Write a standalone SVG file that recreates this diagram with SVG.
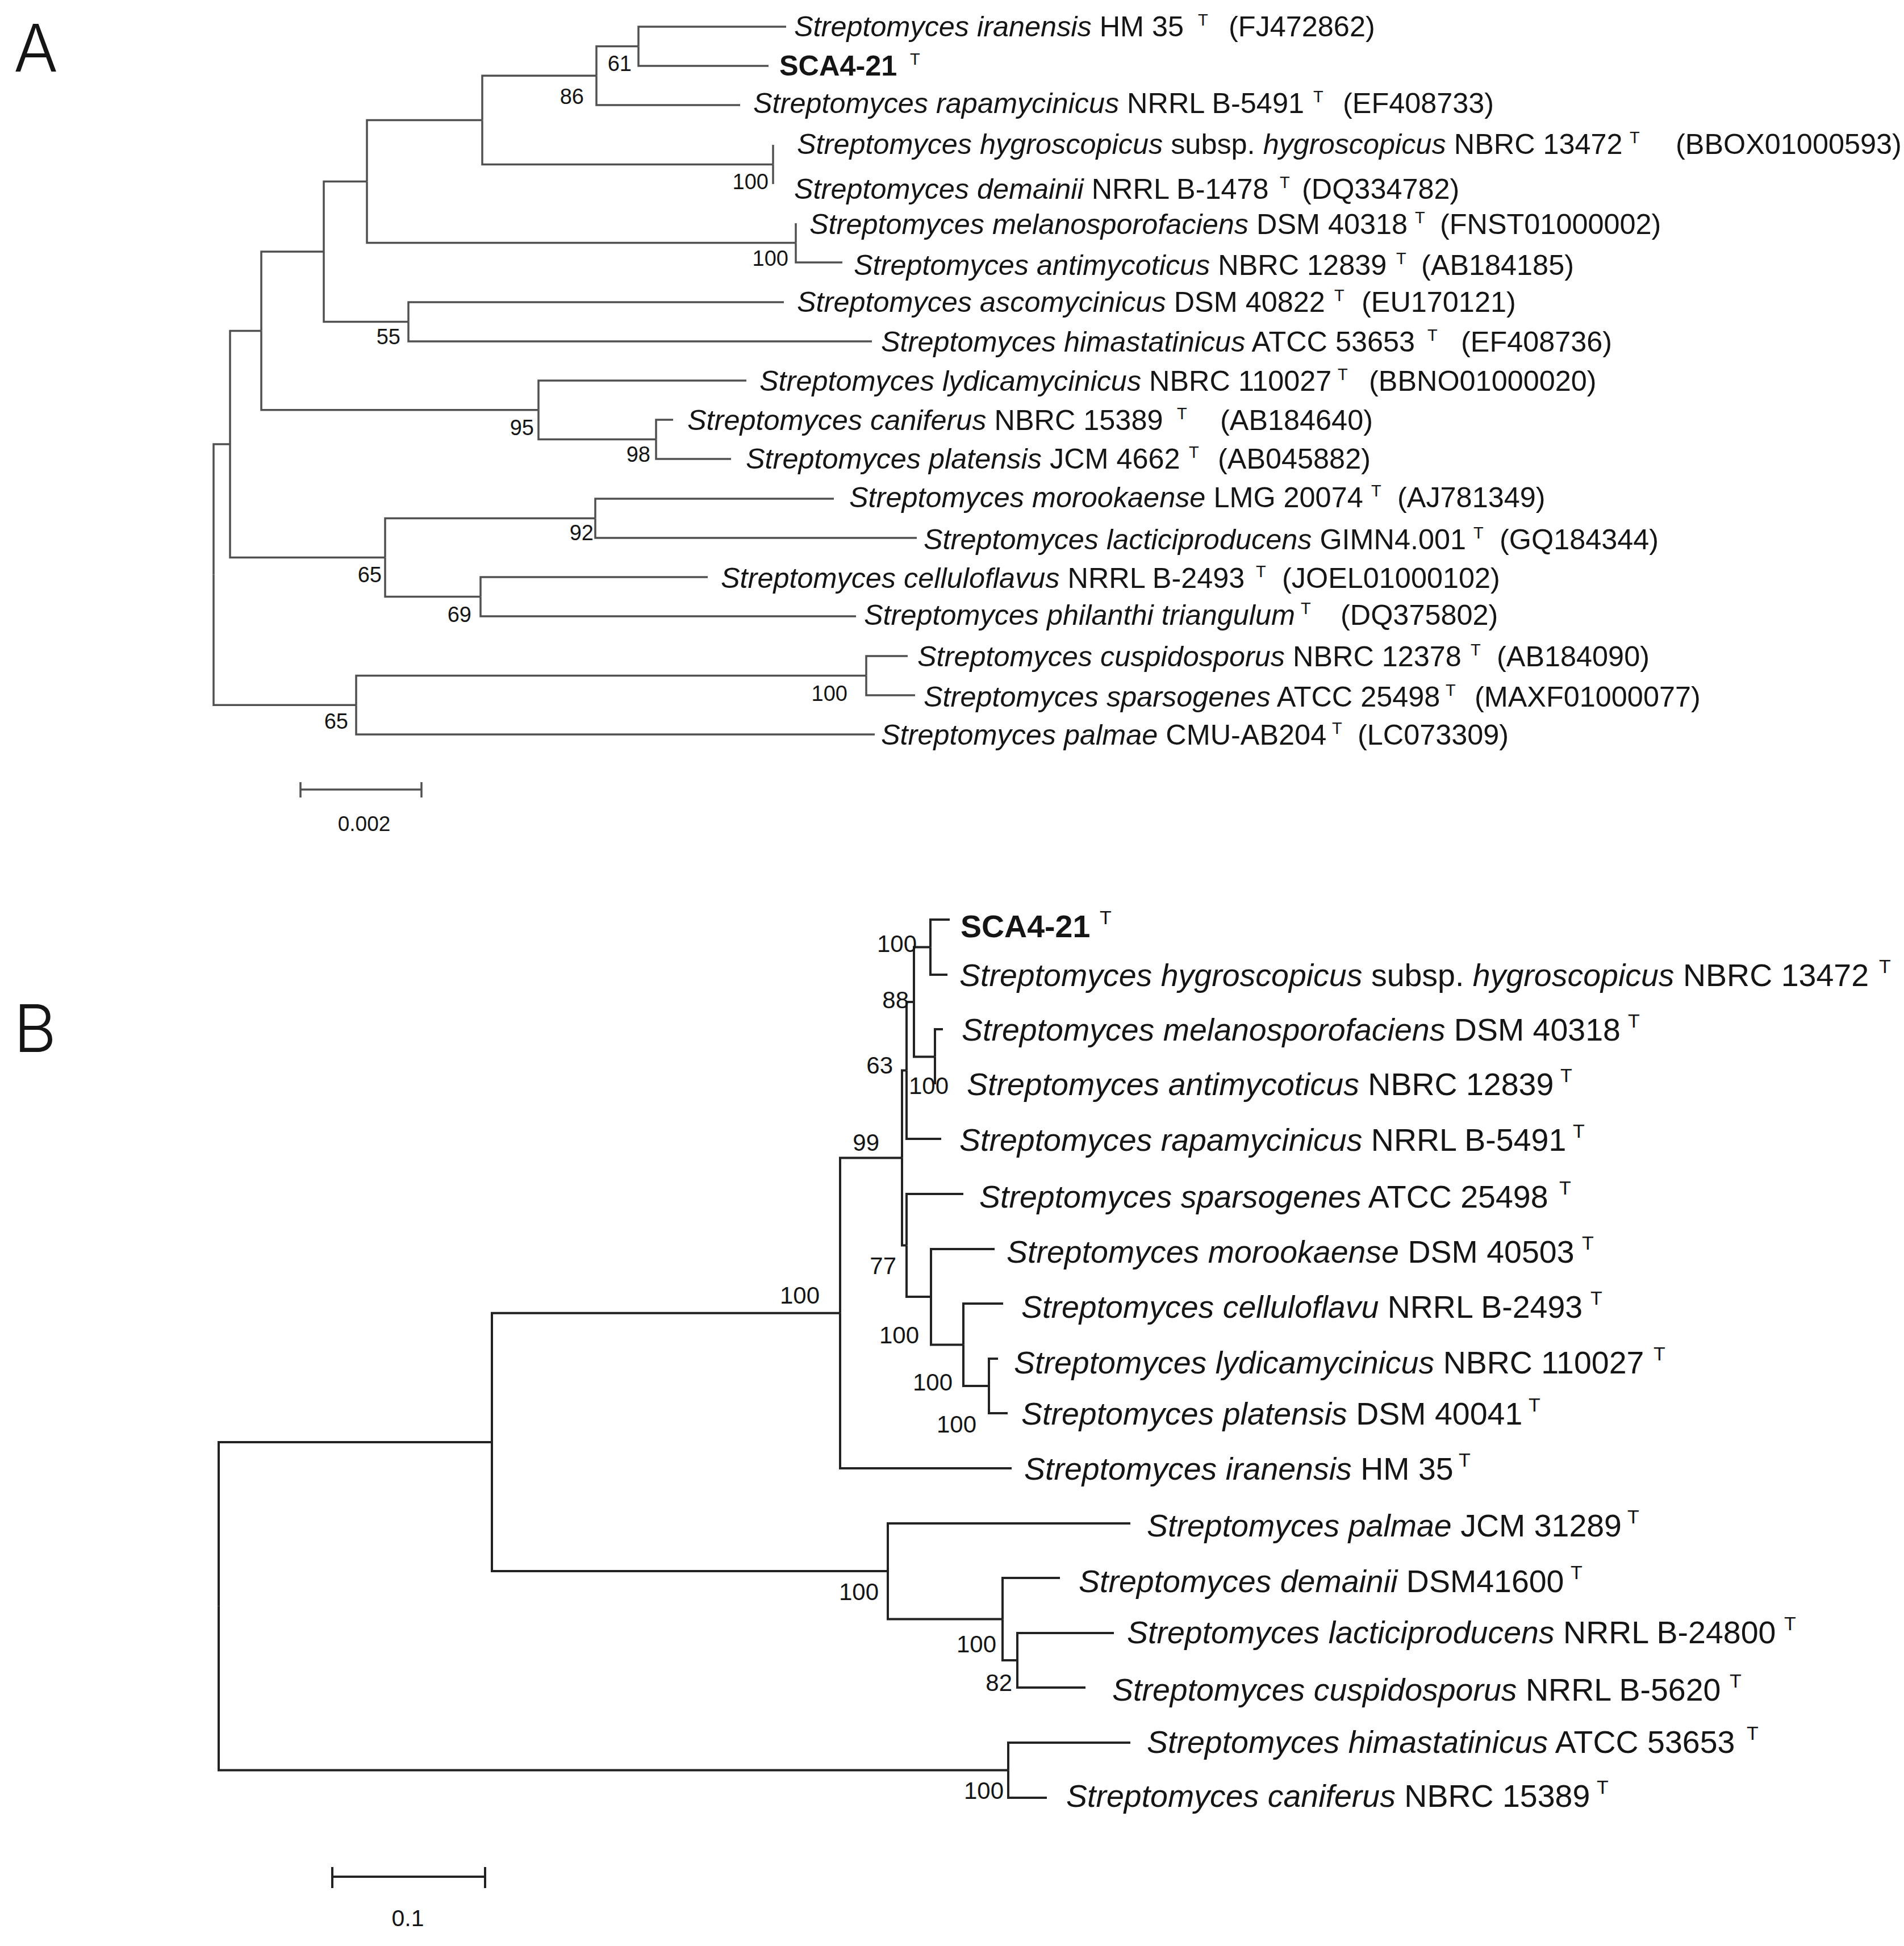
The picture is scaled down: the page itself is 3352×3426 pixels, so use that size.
<svg xmlns="http://www.w3.org/2000/svg" width="3352" height="3426" viewBox="0 0 3352 3426">
<style>
text{font-family:"Liberation Sans",Arial,Helvetica,sans-serif;fill:#151515}
.ea{fill:none;stroke:#505050;stroke-width:3.5}
.eb{fill:none;stroke:#222;stroke-width:4}
.la{font-size:50.4px}
.lb{font-size:55.5px}
.i{font-style:italic}
.b{font-weight:bold}
.sa{font-size:29px}
.sb{font-size:34px}
.ba{font-size:38px;text-anchor:end}
.bb{font-size:42px;text-anchor:end}
.pl{font-family:Inter,"Liberation Sans",sans-serif;font-weight:300;font-size:116px}
.sc{font-size:37px;text-anchor:middle}
</style>
<rect width="3352" height="3426" fill="#fff"/>
<text class="pl" x="24" y="126">A</text>
<text class="pl" x="24" y="1852">B</text>

<g id="connectors-a" class="ea">
<path d="M1124 81.5V47H1384"/>
<path d="M1124 81.5V116H1353"/>
<path d="M1050 133.25V185H1303"/>
<path d="M1050 133.25V81.5H1124"/>
<path d="M1361 289.5V255"/>
<path d="M1361 289.5V324"/>
<path d="M849 211.4V133.25H1050"/>
<path d="M849 211.4V289.5H1361"/>
<path d="M1401 427.5V393"/>
<path d="M1401 427.5V462H1483"/>
<path d="M646 319.4V211.4H849"/>
<path d="M646 319.4V427.5H1401"/>
<path d="M719 566.5V532H1380"/>
<path d="M719 566.5V601H1535"/>
<path d="M570 443V319.4H646"/>
<path d="M570 443V566.5H719"/>
<path d="M948 721.75V670H1314"/>
<path d="M948 721.75V773.5H1155"/>
<path d="M1155 773.5V739H1185"/>
<path d="M1155 773.5V808H1287"/>
<path d="M460 582.4V443H570"/>
<path d="M460 582.4V721.75H948"/>
<path d="M1048 912.5V878H1468"/>
<path d="M1048 912.5V947H1614"/>
<path d="M846 1050.5V1016H1246"/>
<path d="M846 1050.5V1085H1507"/>
<path d="M678 981.5V912.5H1048"/>
<path d="M678 981.5V1050.5H846"/>
<path d="M405 782V582.4H460"/>
<path d="M405 782V981.5H678"/>
<path d="M1525 1189.5V1155H1598"/>
<path d="M1525 1189.5V1224H1611"/>
<path d="M627 1241.25V1293H1540"/>
<path d="M627 1241.25V1189.5H1525"/>
<path d="M376 1011.6V782H405"/>
<path d="M376 1011.6V1241.25H627"/>
<path d="M529 1390H742M529 1377V1404M742 1377V1404"/>
</g>
<text class="sc" x="641" y="1463">0.002</text>

<g id="bootstrap-a">
<text class="ba" x="1112" y="125">61</text>
<text class="ba" x="1028" y="183">86</text>
<text class="ba" x="1353" y="333">100</text>
<text class="ba" x="1388" y="468">100</text>
<text class="ba" x="705" y="606">55</text>
<text class="ba" x="940" y="766">95</text>
<text class="ba" x="1145" y="813">98</text>
<text class="ba" x="1045" y="951">92</text>
<text class="ba" x="672" y="1025">65</text>
<text class="ba" x="830" y="1095">69</text>
<text class="ba" x="1492" y="1234">100</text>
<text class="ba" x="613" y="1283">65</text>
</g>

<g id="a-iranensis"><text class="la" x="1398" y="64"><tspan class="i">Streptomyces iranensis</tspan> HM 35</text><text class="sa" x="2109" y="45">T</text><text class="la" x="2163" y="64">(FJ472862)</text></g>
<g id="a-sca4-21"><text class="la b" x="1372" y="133">SCA4-21</text><text class="sa" x="1602" y="114">T</text></g>
<g id="a-rapamycinicus"><text class="la" x="1326" y="199"><tspan class="i">Streptomyces rapamycinicus</tspan> NRRL B-5491</text><text class="sa" x="2312" y="180">T</text><text class="la" x="2364" y="199">(EF408733)</text></g>
<g id="a-hygroscopicus"><text class="la" x="1403" y="271"><tspan class="i">Streptomyces hygroscopicus</tspan> subsp. <tspan class="i">hygroscopicus</tspan> NBRC 13472</text><text class="sa" x="2869" y="252">T</text><text class="la" x="2950" y="271">(BBOX01000593)</text></g>
<g id="a-demainii"><text class="la" x="1398" y="350"><tspan class="i">Streptomyces demainii</tspan> NRRL B-1478</text><text class="sa" x="2253" y="331">T</text><text class="la" x="2292" y="350">(DQ334782)</text></g>
<g id="a-melanosporofaciens"><text class="la" x="1425" y="412"><tspan class="i">Streptomyces melanosporofaciens</tspan> DSM 40318</text><text class="sa" x="2491" y="393">T</text><text class="la" x="2535" y="412">(FNST01000002)</text></g>
<g id="a-antimycoticus"><text class="la" x="1503" y="484"><tspan class="i">Streptomyces antimycoticus</tspan> NBRC 12839</text><text class="sa" x="2458" y="465">T</text><text class="la" x="2502" y="484">(AB184185)</text></g>
<g id="a-ascomycinicus"><text class="la" x="1403" y="549"><tspan class="i">Streptomyces ascomycinicus</tspan> DSM 40822</text><text class="sa" x="2349" y="530">T</text><text class="la" x="2397" y="549">(EU170121)</text></g>
<g id="a-himastatinicus"><text class="la" x="1551" y="619"><tspan class="i">Streptomyces himastatinicus</tspan> ATCC 53653</text><text class="sa" x="2513" y="600">T</text><text class="la" x="2572" y="619">(EF408736)</text></g>
<g id="a-lydicamycinicus"><text class="la" x="1337" y="688"><tspan class="i">Streptomyces lydicamycinicus</tspan> NBRC 110027</text><text class="sa" x="2355" y="669">T</text><text class="la" x="2410" y="688">(BBNO01000020)</text></g>
<g id="a-caniferus"><text class="la" x="1210" y="757"><tspan class="i">Streptomyces caniferus</tspan> NBRC 15389</text><text class="sa" x="2072" y="738">T</text><text class="la" x="2148" y="757">(AB184640)</text></g>
<g id="a-platensis"><text class="la" x="1313" y="825"><tspan class="i">Streptomyces platensis</tspan> JCM 4662</text><text class="sa" x="2093" y="806">T</text><text class="la" x="2144" y="825">(AB045882)</text></g>
<g id="a-morookaense"><text class="la" x="1495" y="893"><tspan class="i">Streptomyces morookaense</tspan> LMG 20074</text><text class="sa" x="2414" y="874">T</text><text class="la" x="2460" y="893">(AJ781349)</text></g>
<g id="a-lacticiproducens"><text class="la" x="1626" y="967"><tspan class="i">Streptomyces lacticiproducens</tspan> GIMN4.001</text><text class="sa" x="2594" y="948">T</text><text class="la" x="2640" y="967">(GQ184344)</text></g>
<g id="a-celluloflavus"><text class="la" x="1269" y="1035"><tspan class="i">Streptomyces celluloflavus</tspan> NRRL B-2493</text><text class="sa" x="2211" y="1016">T</text><text class="la" x="2257" y="1035">(JOEL01000102)</text></g>
<g id="a-philanthi"><text class="la i" x="1521" y="1100">Streptomyces philanthi triangulum</text><text class="sa" x="2290" y="1081">T</text><text class="la" x="2360" y="1100">(DQ375802)</text></g>
<g id="a-cuspidosporus"><text class="la" x="1615" y="1173"><tspan class="i">Streptomyces cuspidosporus</tspan> NBRC 12378</text><text class="sa" x="2589" y="1154">T</text><text class="la" x="2635" y="1173">(AB184090)</text></g>
<g id="a-sparsogenes"><text class="la" x="1626" y="1244"><tspan class="i">Streptomyces sparsogenes</tspan> ATCC 25498</text><text class="sa" x="2545" y="1225">T</text><text class="la" x="2596" y="1244">(MAXF01000077)</text></g>
<g id="a-palmae"><text class="la" x="1551" y="1311"><tspan class="i">Streptomyces palmae</tspan> CMU-AB204</text><text class="sa" x="2345" y="1292">T</text><text class="la" x="2390" y="1311">(LC073309)</text></g>

<g id="connectors-b" class="eb">
<path d="M1638 1667.5V1619H1672"/>
<path d="M1638 1667.5V1716H1668"/>
<path d="M1646 1860.5V1812H1660"/>
<path d="M1646 1860.5V1909"/>
<path d="M1609 1764V1667.5H1638"/>
<path d="M1609 1764V1860.5H1646"/>
<path d="M1596 1884.5V1764H1609"/>
<path d="M1596 1884.5V2005H1657"/>
<path d="M1588 2038.5V1884.5H1596"/>
<path d="M1588 2038.5V2192.5H1596"/>
<path d="M1596 2192.5V2102H1696"/>
<path d="M1596 2192.5V2283H1639"/>
<path d="M1639 2283V2199H1751"/>
<path d="M1639 2283V2367.5H1696"/>
<path d="M1696 2367.5V2295H1766"/>
<path d="M1696 2367.5V2440H1741"/>
<path d="M1741 2440V2392H1757"/>
<path d="M1741 2440V2488H1774"/>
<path d="M1479 2311.75V2038.5H1588"/>
<path d="M1479 2311.75V2585H1781"/>
<path d="M866 2539V2311.75H1479"/>
<path d="M866 2539V2766H1563"/>
<path d="M1563 2766V2682H1990"/>
<path d="M1563 2766V2850.5H1765"/>
<path d="M1765 2850.5V2778H1866"/>
<path d="M1765 2850.5V2923H1791"/>
<path d="M1791 2923V2875H1961"/>
<path d="M1791 2923V2971H1911"/>
<path d="M385 2827.75V2539H866"/>
<path d="M385 2827.75V3116.5H1775"/>
<path d="M1775 3116.5V3068H1990"/>
<path d="M1775 3116.5V3165H1843"/>
<path d="M585 3304H854M585 3287V3324M854 3287V3324"/>
</g>
<text class="sc" x="718" y="3391" style="font-size:41px">0.1</text>

<g id="bootstrap-b">
<text class="bb" x="1614" y="1676">100</text>
<text class="bb" x="1600" y="1775">88</text>
<text class="bb" x="1572" y="1890">63</text>
<text class="bb" x="1670" y="1926">100</text>
<text class="bb" x="1548" y="2026">99</text>
<text class="bb" x="1578" y="2243">77</text>
<text class="bb" x="1618" y="2365">100</text>
<text class="bb" x="1677" y="2448">100</text>
<text class="bb" x="1719" y="2522">100</text>
<text class="bb" x="1443" y="2295">100</text>
<text class="bb" x="1547" y="2817">100</text>
<text class="bb" x="1754" y="2909">100</text>
<text class="bb" x="1782" y="2977">82</text>
<text class="bb" x="1767" y="3167">100</text>
</g>

<g id="b-sca4-21"><text class="lb b" x="1691" y="1650">SCA4-21</text><text class="sb" x="1936" y="1627">T</text></g>
<g id="b-hygroscopicus"><text class="lb" x="1689" y="1736"><tspan class="i">Streptomyces hygroscopicus</tspan> subsp. <tspan class="i">hygroscopicus</tspan> NBRC 13472</text><text class="sb" x="3308" y="1713">T</text></g>
<g id="b-melanosporofaciens"><text class="lb" x="1693" y="1832"><tspan class="i">Streptomyces melanosporofaciens</tspan> DSM 40318</text><text class="sb" x="2866" y="1809">T</text></g>
<g id="b-antimycoticus"><text class="lb" x="1702" y="1928"><tspan class="i">Streptomyces antimycoticus</tspan> NBRC 12839</text><text class="sb" x="2747" y="1905">T</text></g>
<g id="b-rapamycinicus"><text class="lb" x="1689" y="2026"><tspan class="i">Streptomyces rapamycinicus</tspan> NRRL B-5491</text><text class="sb" x="2769" y="2003">T</text></g>
<g id="b-sparsogenes"><text class="lb" x="1724" y="2126"><tspan class="i">Streptomyces sparsogenes</tspan> ATCC 25498</text><text class="sb" x="2745" y="2103">T</text></g>
<g id="b-morookaense"><text class="lb" x="1772" y="2223"><tspan class="i">Streptomyces morookaense</tspan> DSM 40503</text><text class="sb" x="2785" y="2200">T</text></g>
<g id="b-celluloflavu"><text class="lb" x="1798" y="2320"><tspan class="i">Streptomyces celluloflavu</tspan> NRRL B-2493</text><text class="sb" x="2800" y="2297">T</text></g>
<g id="b-lydicamycinicus"><text class="lb" x="1785" y="2418"><tspan class="i">Streptomyces lydicamycinicus</tspan> NBRC 110027</text><text class="sb" x="2911" y="2395">T</text></g>
<g id="b-platensis"><text class="lb" x="1798" y="2508"><tspan class="i">Streptomyces platensis</tspan> DSM 40041</text><text class="sb" x="2691" y="2485">T</text></g>
<g id="b-iranensis"><text class="lb" x="1803" y="2605"><tspan class="i">Streptomyces iranensis</tspan> HM 35</text><text class="sb" x="2568" y="2582">T</text></g>
<g id="b-palmae"><text class="lb" x="2019" y="2705"><tspan class="i">Streptomyces palmae</tspan> JCM 31289</text><text class="sb" x="2865" y="2682">T</text></g>
<g id="b-demainii"><text class="lb" x="1899" y="2803"><tspan class="i">Streptomyces demainii</tspan> DSM41600</text><text class="sb" x="2765" y="2780">T</text></g>
<g id="b-lacticiproducens"><text class="lb" x="1984" y="2893"><tspan class="i">Streptomyces lacticiproducens</tspan> NRRL B-24800</text><text class="sb" x="3141" y="2870">T</text></g>
<g id="b-cuspidosporus"><text class="lb" x="1958" y="2994"><tspan class="i">Streptomyces cuspidosporus</tspan> NRRL B-5620</text><text class="sb" x="3045" y="2971">T</text></g>
<g id="b-himastatinicus"><text class="lb" x="2019" y="3086"><tspan class="i">Streptomyces himastatinicus</tspan> ATCC 53653</text><text class="sb" x="3075" y="3063">T</text></g>
<g id="b-caniferus"><text class="lb" x="1877" y="3181"><tspan class="i">Streptomyces caniferus</tspan> NBRC 15389</text><text class="sb" x="2811" y="3158">T</text></g>
</svg>
